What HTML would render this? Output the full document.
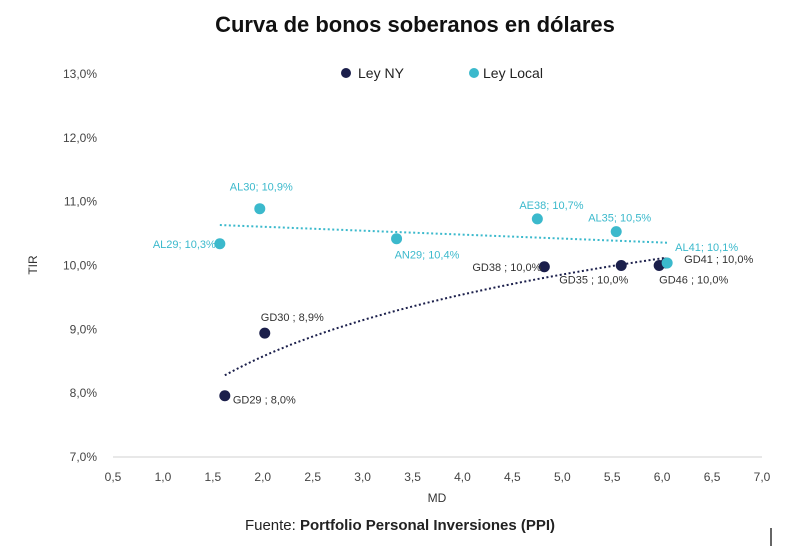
<!DOCTYPE html>
<html><head><meta charset="utf-8"><style>
body{margin:0;background:#fff;width:800px;height:555px;overflow:hidden;font-family:"Liberation Sans",sans-serif}
</style></head><body>
<svg id="chart" width="800" height="555" xmlns="http://www.w3.org/2000/svg">
<text x="415" y="32" text-anchor="middle" font-size="22" font-weight="bold" fill="#111">Curva de bonos soberanos en dólares</text>
<g>
<circle cx="346" cy="73" r="5" fill="#1b1f4b"/>
<text x="358" y="78" font-size="14" fill="#222">Ley NY</text>
<circle cx="474" cy="73" r="5" fill="#3bb9cc"/>
<text x="483" y="78" font-size="14" fill="#222">Ley Local</text>
</g>
<text transform="translate(37,265) rotate(-90)" text-anchor="middle" font-size="12" fill="#333">TIR</text>
<text x="437" y="502" text-anchor="middle" font-size="12" fill="#333">MD</text>
<text x="400" y="530" text-anchor="middle" font-size="15" fill="#222">Fuente: <tspan font-weight="bold">Portfolio Personal Inversiones (PPI)</tspan></text>
<line x1="771" y1="528" x2="771" y2="546" stroke="#333" stroke-width="1.5"/>
<g id="plot"></g>
</svg>
<script>
const xTicks=[0.5,1.0,1.5,2.0,2.5,3.0,3.5,4.0,4.5,5.0,5.5,6.0,6.5,7.0];
const yTicks=[7,8,9,10,11,12,13];
const nyNames=["GD29","GD30","GD38","GD35","GD46","GD41"];
const nyMD=[1.62,2.02,4.82,5.59,5.97,6.04];
const nyTIR=[7.96,8.94,9.98,10.0,10.0,10.04];
const nyLabels=["GD29 ; 8,0%","GD30 ; 8,9%","GD38 ; 10,0%","GD35 ; 10,0%","GD46 ; 10,0%","GD41 ; 10,0%"];
const locNames=["AL29","AL30","AN29","AE38","AL35","AL41"];
const locMD=[1.57,1.97,3.34,4.75,5.54,6.05];
const locTIR=[10.34,10.89,10.42,10.73,10.53,10.04];
const locLabels=["AL29; 10,3%","AL30; 10,9%","AN29; 10,4%","AE38; 10,7%","AL35; 10,5%","AL41; 10,1%"];

const NS="http://www.w3.org/2000/svg";
const X0=113,X1=762,Y0=457,Y1=74;
const sx=v=>X0+(v-0.5)/6.5*(X1-X0);
const sy=v=>Y0-(v-7)/6*(Y0-Y1);
const g=document.getElementById('plot');
function mk(t,a,txt){const e=document.createElementNS(NS,t);for(const k in a)e.setAttribute(k,a[k]);if(txt!=null)e.textContent=txt;g.appendChild(e);return e;}
const ax=mk('line',{x1:X0,y1:Y0,x2:X1,y2:Y0,stroke:'#d0d0d0','stroke-width':1});


xTicks.forEach(v=>{const t=mk('text',{x:sx(v),y:481,'text-anchor':'middle','font-size':12,fill:'#444'},v.toFixed(1).replace('.',','));

});
yTicks.forEach(v=>{const t=mk('text',{x:97,y:sy(v)+4,'text-anchor':'end','font-size':12,fill:'#444'},v.toFixed(1).replace('.',',')+'%');

});
// linear trend local
function linfit(xs,ys){const n=xs.length;let mx=0,my=0;xs.forEach((x,i)=>{mx+=x;my+=ys[i];});mx/=n;my/=n;let sxy=0,sxx=0;xs.forEach((x,i)=>{sxy+=(x-mx)*(ys[i]-my);sxx+=(x-mx)*(x-mx);});const b=sxy/sxx;return [my-b*mx,b];}
const [la,lb]=linfit(locMD,locTIR);
const lmin=Math.min(...locMD),lmax=Math.max(...locMD);
const tl=mk('line',{x1:sx(lmin),y1:sy(la+lb*lmin),x2:sx(lmax),y2:sy(la+lb*lmax),stroke:'#3bb9cc','stroke-width':2,'stroke-dasharray':'2 2.5'});


const [na,nb]=linfit(nyMD.map(Math.log),nyTIR);
const nmin=Math.min(...nyMD),nmax=Math.max(...nyMD);
let d='';for(let i=0;i<=40;i++){const x=nmin+(nmax-nmin)*i/40;d+=(i?'L':'M')+sx(x).toFixed(1)+','+sy(na+nb*Math.log(x)).toFixed(1);}
const tn=mk('path',{d:d,fill:'none',stroke:'#1b1f4b','stroke-width':2,'stroke-dasharray':'2 2.5'});


const nyOff=[[8,8],[-4,-12],[-72,4],[-62,18],[0,18],[18,0]];
const nyAnch=['start','start','start','start','start','start'];
nyMD.forEach((x,i)=>{const c=mk('circle',{cx:sx(x),cy:sy(nyTIR[i]),r:5.5,fill:'#1b1f4b'});


const t=mk('text',{x:sx(x)+nyOff[i][0],y:sy(nyTIR[i])+nyOff[i][1],'font-size':11,fill:'#333','text-anchor':nyAnch[i]},nyLabels[i]);

});
const locOff=[[-67,4],[-30,-18],[-2,20],[-18,-10],[-28,-10],[8,-12]];
locMD.forEach((x,i)=>{const c=mk('circle',{cx:sx(x),cy:sy(locTIR[i]),r:5.5,fill:'#3bb9cc'});


const t=mk('text',{x:sx(x)+locOff[i][0],y:sy(locTIR[i])+locOff[i][1],'font-size':11,fill:'#3bb9cc'},locLabels[i]);

});
</script>
</body></html>
